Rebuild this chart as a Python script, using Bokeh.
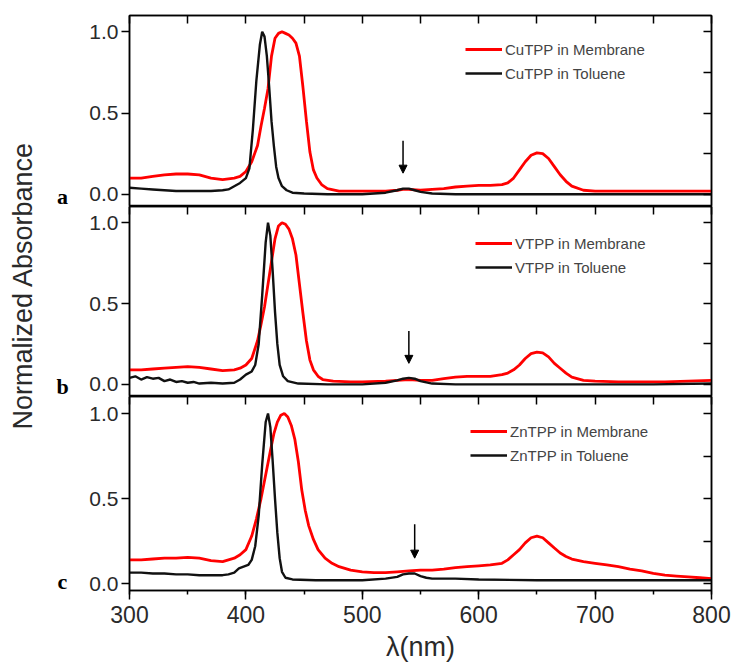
import math
from bokeh.plotting import figure
from bokeh.layouts import column, row
from bokeh.models import (Range1d, LinearAxis, FixedTicker, Label, Arrow, NormalHead,
                          Legend, LegendItem)
from bokeh.embed import file_html
from bokeh.resources import INLINE

# ---------------- data ----------------
panel_letters = ["a", "b", "c"]
membrane_labels = ["CuTPP in Membrane", "VTPP in Membrane", "ZnTPP in Membrane"]
toluene_labels = ["CuTPP in Toluene", "VTPP in Toluene", "ZnTPP in Toluene"]

# Panel a: CuTPP
cu_mem_wl = [300, 310, 320, 330, 340, 350, 360, 370, 380, 390, 395, 400, 405, 410, 413, 416, 419, 422, 425,
             428, 431, 434, 437, 440, 443, 446, 449, 452, 455, 458, 461, 465, 470, 480, 490, 500, 510, 520,
             530, 535, 540, 550, 560, 570, 580, 590, 600, 610, 620, 625, 630, 635, 640, 645, 650, 655, 660,
             665, 670, 675, 680, 690, 700, 720, 740, 760, 780, 800]
cu_mem_abs = [0.10, 0.10, 0.11, 0.12, 0.125, 0.125, 0.12, 0.10, 0.09, 0.10, 0.11, 0.14, 0.20, 0.30, 0.42,
              0.53, 0.65, 0.85, 0.96, 0.99, 1.00, 0.99, 0.98, 0.96, 0.93, 0.85, 0.66, 0.45, 0.26, 0.15,
              0.10, 0.06, 0.035, 0.02, 0.02, 0.02, 0.02, 0.02, 0.025, 0.03, 0.03, 0.025, 0.03, 0.035,
              0.045, 0.05, 0.055, 0.055, 0.06, 0.07, 0.10, 0.15, 0.20, 0.24, 0.255, 0.25, 0.22, 0.17,
              0.12, 0.08, 0.05, 0.025, 0.02, 0.02, 0.02, 0.02, 0.02, 0.02]
cu_tol_wl = [300, 310, 320, 330, 340, 350, 360, 370, 380, 385, 390, 395, 400, 403, 406, 409, 412, 414, 416,
             418, 420, 422, 424, 426, 428, 431, 435, 440, 450, 470, 500, 520, 530, 535, 540, 545, 550, 560,
             580, 600, 650, 700, 750, 800]
cu_tol_abs = [0.04, 0.035, 0.03, 0.025, 0.02, 0.02, 0.02, 0.02, 0.025, 0.03, 0.05, 0.07, 0.10, 0.16, 0.40,
              0.70, 0.92, 1.00, 0.97, 0.85, 0.66, 0.45, 0.30, 0.17, 0.10, 0.05, 0.025, 0.01, 0.005, 0.0,
              0.0, 0.01, 0.025, 0.035, 0.035, 0.025, 0.015, 0.005, 0.0, 0.0, 0.0, 0.0, 0.0, 0.0]

# Panel b: VTPP
v_mem_wl = [300, 310, 320, 330, 340, 350, 360, 370, 380, 390, 395, 400, 405, 410, 413, 416, 419, 422, 425,
            428, 431, 434, 437, 440, 443, 446, 449, 452, 455, 458, 462, 466, 475, 490, 500, 520, 530, 540,
            550, 560, 570, 580, 590, 600, 610, 620, 625, 630, 635, 640, 645, 650, 655, 660, 665, 670, 675,
            680, 690, 700, 720, 740, 760, 780, 800]
v_mem_abs = [0.09, 0.09, 0.095, 0.10, 0.105, 0.11, 0.105, 0.095, 0.085, 0.09, 0.10, 0.12, 0.16, 0.27, 0.37,
             0.48, 0.62, 0.76, 0.90, 0.98, 1.00, 0.99, 0.96, 0.90, 0.80, 0.62, 0.44, 0.27, 0.15, 0.09,
             0.05, 0.03, 0.02, 0.015, 0.015, 0.02, 0.025, 0.03, 0.025, 0.025, 0.035, 0.045, 0.05, 0.05,
             0.05, 0.06, 0.07, 0.09, 0.12, 0.16, 0.19, 0.20, 0.195, 0.17, 0.13, 0.10, 0.07, 0.045, 0.025,
             0.02, 0.015, 0.015, 0.015, 0.02, 0.025]
v_tol_wl = [300, 305, 310, 315, 320, 325, 330, 335, 340, 345, 350, 355, 360, 370, 380, 390, 395, 400, 405,
            408, 411, 414, 417, 419, 421, 423, 425, 427, 429, 432, 436, 445, 470, 500, 520, 530, 535, 540,
            545, 550, 560, 580, 600, 650, 700, 750, 800]
v_tol_abs = [0.04, 0.05, 0.03, 0.045, 0.035, 0.04, 0.02, 0.03, 0.015, 0.02, 0.01, 0.015, 0.005, 0.01, 0.005,
             0.01, 0.03, 0.06, 0.08, 0.12, 0.25, 0.55, 0.88, 1.00, 0.92, 0.70, 0.45, 0.25, 0.12, 0.05,
             0.02, 0.005, 0.0, 0.0, 0.01, 0.025, 0.035, 0.04, 0.035, 0.02, 0.005, 0.0, 0.0, 0.0, 0.0,
             0.0, 0.005]

# Panel c: ZnTPP
zn_mem_wl = [300, 310, 320, 330, 340, 350, 360, 370, 380, 390, 395, 400, 405, 409, 413, 417, 421, 424, 427,
             430, 433, 436, 439, 442, 445, 448, 451, 454, 458, 462, 468, 474, 480, 490, 500, 510, 520, 530,
             540, 550, 560, 570, 580, 590, 600, 610, 620, 625, 630, 635, 640, 645, 650, 655, 660, 665, 670,
             675, 680, 690, 700, 710, 720, 730, 740, 750, 760, 770, 780, 790, 800]
zn_mem_abs = [0.14, 0.14, 0.145, 0.15, 0.15, 0.155, 0.15, 0.135, 0.13, 0.15, 0.17, 0.20, 0.28, 0.38, 0.50,
              0.64, 0.78, 0.88, 0.95, 0.99, 1.00, 0.98, 0.93, 0.85, 0.72, 0.55, 0.43, 0.34, 0.26, 0.20,
              0.15, 0.12, 0.10, 0.08, 0.07, 0.065, 0.065, 0.07, 0.075, 0.08, 0.08, 0.085, 0.095, 0.10,
              0.105, 0.11, 0.12, 0.14, 0.17, 0.20, 0.24, 0.27, 0.28, 0.27, 0.24, 0.21, 0.18, 0.16, 0.145,
              0.13, 0.12, 0.11, 0.10, 0.085, 0.075, 0.06, 0.05, 0.045, 0.04, 0.035, 0.03]
zn_tol_wl = [300, 310, 320, 330, 340, 350, 360, 370, 380, 385, 390, 394, 398, 402, 405, 408, 411, 414, 417,
             419, 421, 423, 425, 427, 429, 431, 434, 440, 460, 480, 500, 520, 530, 535, 540, 545, 550, 555,
             560, 580, 600, 650, 700, 750, 800]
zn_tol_abs = [0.065, 0.065, 0.06, 0.06, 0.055, 0.055, 0.05, 0.05, 0.05, 0.055, 0.065, 0.09, 0.10, 0.11,
              0.14, 0.22, 0.40, 0.70, 0.95, 1.00, 0.92, 0.72, 0.50, 0.30, 0.15, 0.07, 0.035, 0.025, 0.02,
              0.02, 0.02, 0.03, 0.04, 0.055, 0.06, 0.06, 0.045, 0.035, 0.03, 0.03, 0.025, 0.02, 0.02,
              0.02, 0.02]

# arrows marking the Q-band of the toluene spectra
arrow_x = [535, 540, 545]
arrow_y_start = [0.33, 0.33, 0.35]
arrow_y_end = [0.13, 0.13, 0.15]

x_ticks = [300, 400, 500, 600, 700, 800]
y_ticks = [0.0, 0.5, 1.0]
y_tick_labels = ["0.0", "0.5", "1.0"]

membrane_wl = [cu_mem_wl, v_mem_wl, zn_mem_wl]
membrane_abs = [cu_mem_abs, v_mem_abs, zn_mem_abs]
toluene_wl = [cu_tol_wl, v_tol_wl, zn_tol_wl]
toluene_abs = [cu_tol_abs, v_tol_abs, zn_tol_abs]

# ---------------- layout ----------------
FONT = "Liberation Sans"
TXT = "#2a2a2a"
H = 664
SIDE_W = 75
W = 739 - SIDE_W
heights = [206, 190, 268]
y_lows = [-0.075, -0.075, -0.04]
legend_loc = [(336, 121), (346, 117), (341, 123)]
letter_y_px = [196, 386, 581]   # vertical position (px from top) of the panel letters

# narrow left strip holding the shared y-axis title and panel letters
side = figure(width=SIDE_W, height=H, x_range=Range1d(0, SIDE_W), y_range=Range1d(H, 0),
              output_backend="svg", toolbar_location=None,
              min_border=0, min_border_left=0, min_border_right=0, min_border_top=0, min_border_bottom=0)
side.axis.visible = False
side.grid.visible = False
side.outline_line_color = None
side.add_layout(Label(x=22, y=285, text="Normalized Absorbance", angle=math.pi / 2,
                      text_font=FONT, text_font_size="27px", text_color=TXT,
                      text_align="center", text_baseline="middle"))
for i in range(3):
    side.add_layout(Label(x=62, y=letter_y_px[i], text=panel_letters[i], text_font="Liberation Serif",
                          text_font_style="bold", text_font_size="22px", text_align="center",
                          text_baseline="middle", text_color="black"))


def ticks_only_axis(ticks):
    return LinearAxis(ticker=FixedTicker(ticks=ticks),
                      major_label_text_font_size="0px", major_label_text_color=None,
                      major_label_standoff=0,
                      major_tick_in=8, major_tick_out=0, minor_tick_line_color=None,
                      axis_line_width=1.5, major_tick_line_width=1.5)


x_range = Range1d(300, 800)
figs = []
for i in range(3):
    p = figure(width=W, height=heights[i], x_range=x_range, y_range=Range1d(y_lows[i], 1.1),
               output_backend="svg", toolbar_location=None,
               min_border_left=129 - SIDE_W, min_border_right=28,
               min_border_top=15 if i == 0 else 0,
               min_border_bottom=0)
    xa = p.xaxis[0]
    ya = p.yaxis[0]
    p.grid.visible = False
    p.outline_line_color = "black"
    p.outline_line_width = 1.5

    # left axis
    ya.ticker = FixedTicker(ticks=y_ticks)
    ya.major_label_overrides = {t: s for t, s in zip(y_ticks, y_tick_labels)}
    ya.major_label_text_font = FONT
    ya.major_label_text_font_size = "21px"
    ya.major_label_text_color = TXT
    ya.major_tick_in = 0
    ya.major_tick_out = 8
    ya.minor_tick_line_color = None
    ya.axis_line_width = 1.5
    ya.major_tick_line_width = 1.5
    ya.major_label_standoff = 3

    # bottom axis
    if i < 2:
        xa.visible = False
    else:
        xa.ticker = FixedTicker(ticks=x_ticks, minor_ticks=list(range(300, 801, 50)))
        xa.major_label_text_font = FONT
        xa.major_label_text_font_size = "23px"
        xa.major_label_text_color = TXT
        xa.major_tick_in = 0
        xa.major_tick_out = 9
        xa.minor_tick_in = 0
        xa.minor_tick_out = 4
        xa.axis_line_width = 1.5
        xa.major_tick_line_width = 1.5
        xa.minor_tick_line_width = 1.5
        xa.major_label_standoff = 6
        xa.axis_label = "λ(nm)"
        xa.axis_label_text_font = FONT
        xa.axis_label_text_font_size = "27px"
        xa.axis_label_text_font_style = "normal"
        xa.axis_label_text_color = TXT
        xa.axis_label_standoff = 6

    # right and top axes: inward ticks only
    p.add_layout(ticks_only_axis([0.0, 0.25, 0.5, 0.75, 1.0]), "right")
    p.add_layout(ticks_only_axis(list(range(300, 801, 50))), "above")

    r_mem = p.line(membrane_wl[i], membrane_abs[i], line_color="#ff0000", line_width=2.8)
    r_tol = p.line(toluene_wl[i], toluene_abs[i], line_color="#111111", line_width=2.4)

    leg = Legend(items=[LegendItem(label=membrane_labels[i], renderers=[r_mem]),
                        LegendItem(label=toluene_labels[i], renderers=[r_tol])],
                 location=legend_loc[i], border_line_color=None, background_fill_alpha=0,
                 padding=0, margin=0, spacing=0, glyph_width=37, glyph_height=24,
                 label_height=24, label_standoff=3, label_text_font=FONT,
                 label_text_font_size="15px", label_text_color="#444444")
    p.add_layout(leg)

    p.add_layout(Arrow(x_start=arrow_x[i], y_start=arrow_y_start[i], x_end=arrow_x[i], y_end=arrow_y_end[i],
                       line_width=1.5, line_color="black",
                       end=NormalHead(size=8, fill_color="black", line_color="black")))
    figs.append(p)

layout = row(side, column(*figs, spacing=0), spacing=0)
open("out.html", "w").write(file_html(layout, INLINE))
